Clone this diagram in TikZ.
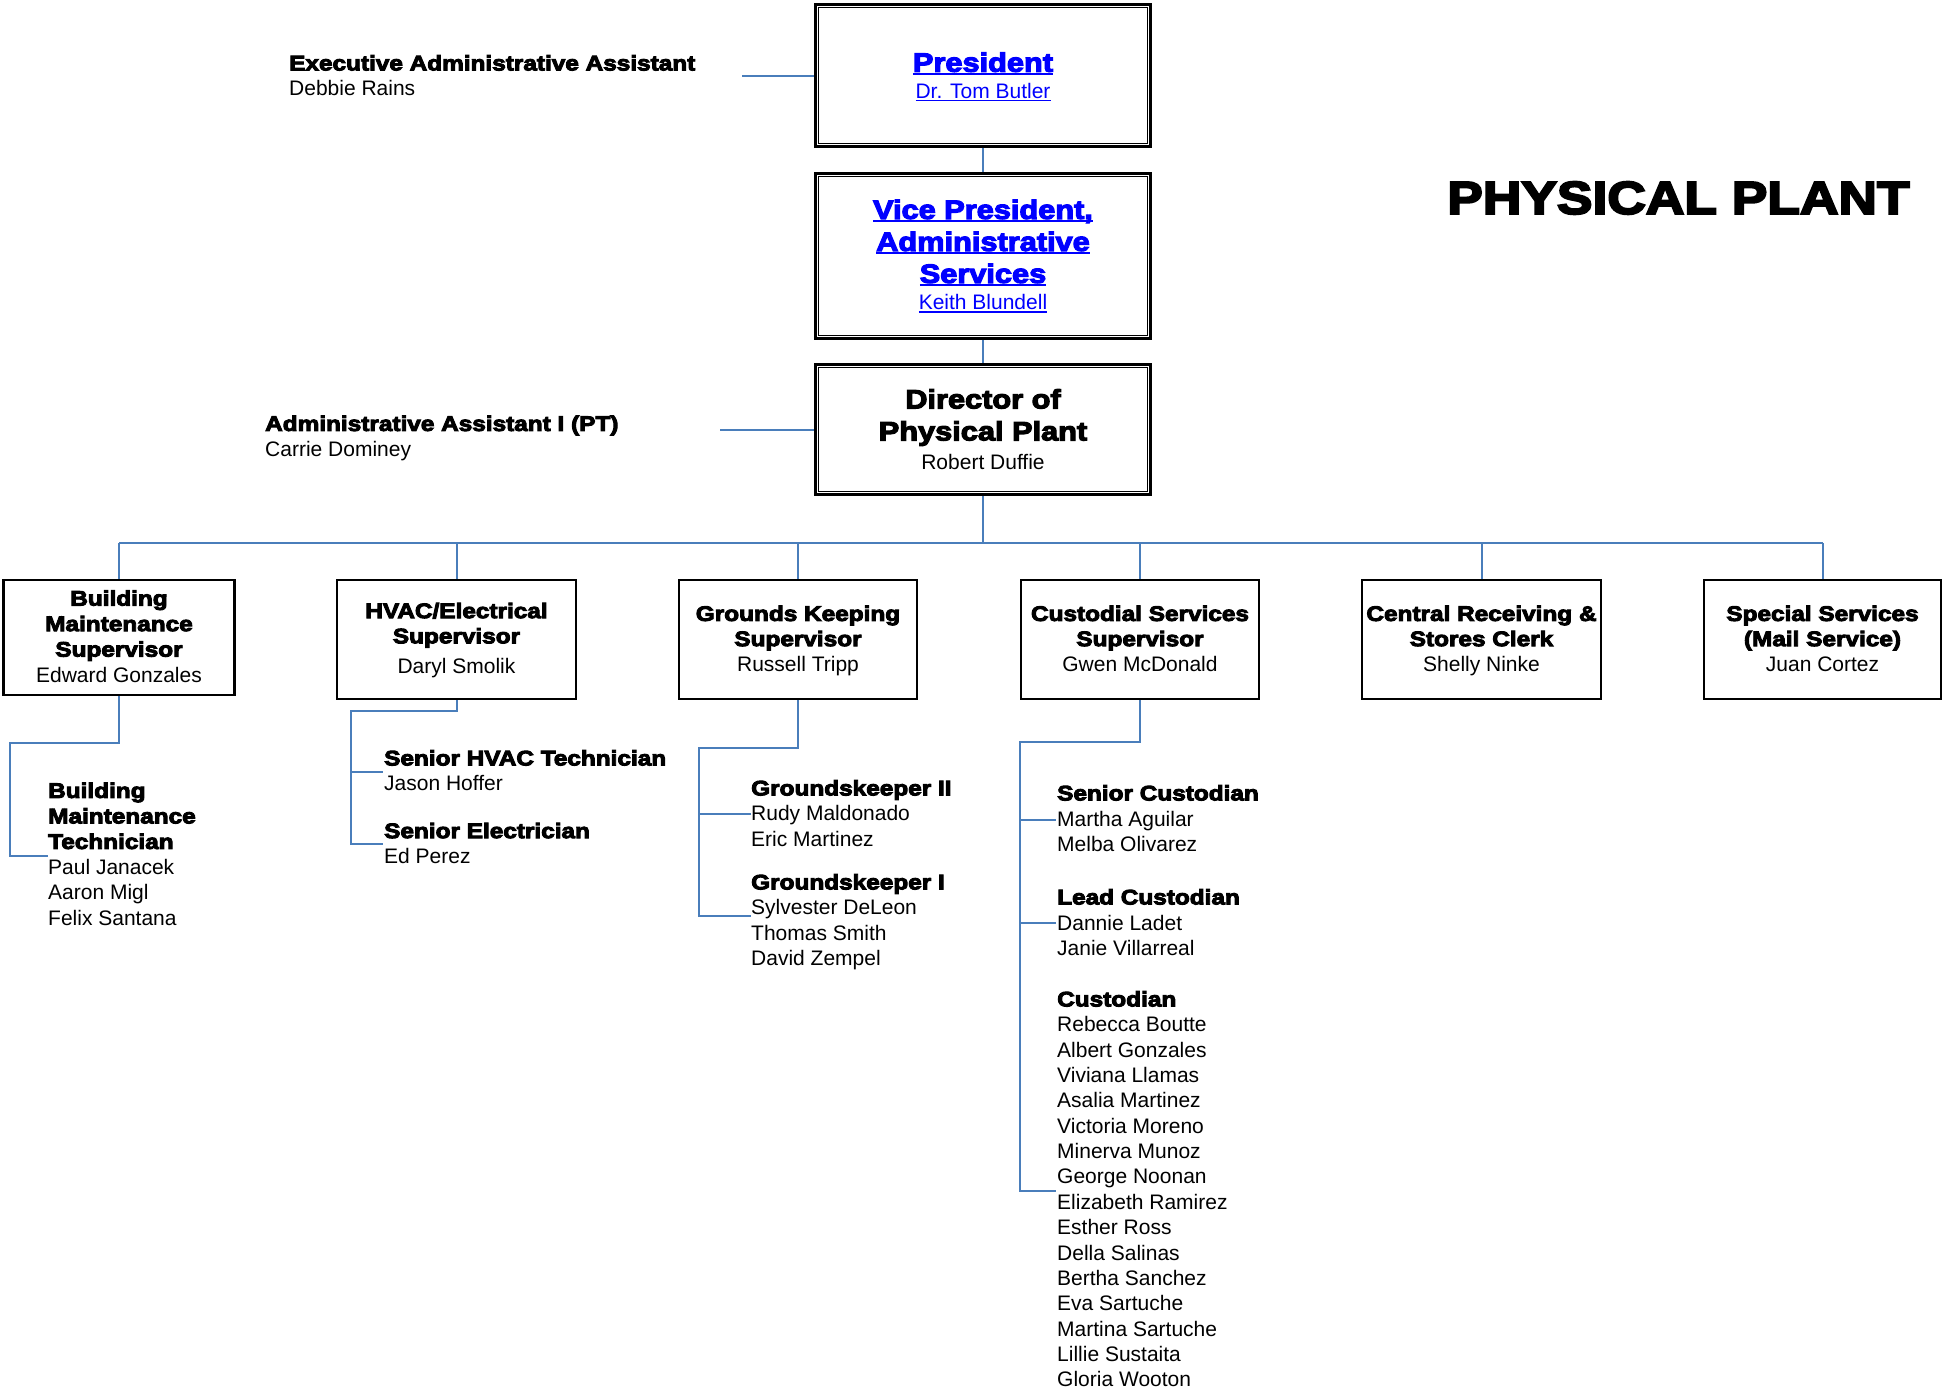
\documentclass[tikz,border=0pt]{standalone}
\usepackage{fontspec}
\setmainfont{Liberation Sans}
\newfontfamily\blk[FakeStretch=1.16,FakeBold=4.5]{Liberation Sans Bold}
\newcommand\ulx[1]{\setbox0\hbox{#1}\rlap{\rule[-3.3pt]{\wd0}{1.8pt}}\box0}
\usetikzlibrary{calc}
\definecolor{conn}{RGB}{74,126,187}
\definecolor{lnk}{RGB}{0,0,255}
\begin{document}
\begin{tikzpicture}[x=1pt,y=-1pt,
  cline/.style={draw=conn,line width=2pt},
  topbox/.style={draw=black,line width=3pt,rectangle,inner sep=0pt,minimum width=335pt},
  midbox/.style={draw=black,line width=2.3pt,rectangle,inner sep=0pt,minimum width=238pt,minimum height=119pt},
  inbox/.style={draw=black,line width=1.7pt},
  txt/.style={inner sep=0pt,align=left,anchor=north west,font=\fontsize{21}{25.4}\selectfont},
  ctxt/.style={inner sep=0pt,align=center,anchor=north,font=\fontsize{21}{25.4}\selectfont},
  btxt/.style={inner sep=0pt,align=center,anchor=north,font=\fontsize{26.5}{32}\blk}]
\useasboundingbox (0,0) rectangle (1944,1394);

% top boxes
\node[topbox,minimum height=142pt] (pres) at (983,75.5) {};
\node[topbox,minimum height=165pt] (vp) at (983,256) {};
\node[topbox,minimum height=130pt] (dir) at (983,429.5) {};
\foreach \b in {pres,vp,dir}{
  \draw[inbox] ($(\b.north west)+(4.5,4.5)$) rectangle ($(\b.south east)+(-4.5,-4.5)$);
}
\node[btxt,text=lnk] (prest) at (983,52.3) {\ulx{President}\\[-5.6pt]{\fontsize{21}{25.4}\fontspec{Liberation Sans}\ulx{Dr. Tom Butler}}};
\node[btxt,text=lnk] (vpt) at (983,199.5) {\ulx{Vice President,}\\\ulx{Administrative}\\\ulx{Services}\\[-5.6pt]{\fontsize{21}{25.4}\fontspec{Liberation Sans}\ulx{Keith Blundell}}};
\node[btxt] (dirt) at (983,389) {Director of\\Physical Plant\\[-2.7pt]{\fontsize{21}{25.4}\fontspec{Liberation Sans}Robert Duffie}};

% assistants
\node[txt] (exec) at (289,55) {{\blk Executive Administrative Assistant}\\Debbie Rains};
\node[txt] (adm) at (265,415.5) {{\blk Administrative Assistant I (PT)}\\Carrie Dominey};
\coordinate (execE) at (742,76);
\coordinate (admE) at (720,430);
\draw[cline] (execE) -- (pres.west |- execE);
\draw[cline] (admE) -- (dir.west |- admE);

% title
\node[inner sep=0pt,anchor=north west,font=\fontsize{46}{50}\blk] (title) at (1447,181.5) {PHYSICAL PLANT};

% level 2 boxes
\node[midbox,minimum width=231pt,minimum height=115pt] (bm) at (119,637.5) {};
\node[midbox,minimum width=239pt] (hv) at (456.5,639.5) {};
\node[midbox] (gk) at (798,639.5) {};
\node[midbox] (cs) at (1140,639.5) {};
\node[midbox,minimum width=239pt] (cr) at (1481.5,639.5) {};
\node[midbox,minimum width=237pt] (sp) at (1822.5,639.5) {};

\node[ctxt,font=\fontsize{21}{25.5}\selectfont] (bmt) at (119,590.2) {{\blk Building}\\{\blk Maintenance}\\{\blk Supervisor}\\Edward Gonzales};
\node[ctxt,font=\fontsize{21}{25.2}\selectfont] (hvt) at (456.5,602.7) {{\blk HVAC/Electrical}\\{\blk Supervisor}\\[4.8pt]Daryl Smolik};
\node[ctxt,font=\fontsize{21}{25.2}\selectfont] (gkt) at (798,605.5) {{\blk Grounds Keeping}\\{\blk Supervisor}\\Russell Tripp};
\node[ctxt,font=\fontsize{21}{25.2}\selectfont] (cst) at (1140,605.5) {{\blk Custodial Services}\\{\blk Supervisor}\\Gwen McDonald};
\node[ctxt,font=\fontsize{21}{25.2}\selectfont] (crt) at (1481.5,605.5) {{\blk Central Receiving \&}\\{\blk Stores Clerk}\\Shelly Ninke};
\node[ctxt,font=\fontsize{21}{25.2}\selectfont] (spt) at (1822.5,605.5) {{\blk Special Services}\\{\blk (Mail Service)}\\Juan Cortez};

% main connectors
\coordinate (bus) at (983,543);
\draw[cline] (pres.south) -- (vp.north);
\draw[cline] (vp.south) -- (dir.north);
\draw[cline] (dir.south) -- (bus);
\draw[cline] (bm.north |- bus) -- (sp.north |- bus);
\foreach \b in {bm,hv,gk,cs,cr,sp}{
  \draw[cline] (\b.north) -- (\b.north |- bus);
}

% sub texts
\node[txt,font=\fontsize{21}{25.5}\selectfont] (bmsub) at (48,782.5) {{\blk Building}\\{\blk Maintenance}\\{\blk Technician}\\Paul Janacek\\Aaron Migl\\Felix Santana};
\node[txt] (hv1) at (384,750) {{\blk Senior HVAC Technician}\\Jason Hoffer};
\node[txt] (hv2) at (384,822.7) {{\blk Senior Electrician}\\Ed Perez};
\node[txt] (gk1) at (751,780) {{\blk Groundskeeper II}\\Rudy Maldonado\\Eric Martinez};
\node[txt] (gk2) at (751,874) {{\blk Groundskeeper I}\\Sylvester DeLeon\\Thomas Smith\\David Zempel};
\node[txt] (cs1) at (1057,785) {{\blk Senior Custodian}\\[0.5pt]Martha Aguilar\\Melba Olivarez};
\node[txt] (cs2) at (1057,889) {{\blk Lead Custodian}\\[0.5pt]Dannie Ladet\\Janie Villarreal};
\node[txt,font=\fontsize{21}{25.36}\selectfont] (cs3) at (1057,991) {{\blk Custodian}\\Rebecca Boutte\\Albert Gonzales\\Viviana Llamas\\Asalia Martinez\\Victoria Moreno\\Minerva Munoz\\George Noonan\\Elizabeth Ramirez\\Esther Ross\\Della Salinas\\Bertha Sanchez\\Eva Sartuche\\Martina Sartuche\\Lillie Sustaita\\Gloria Wooton};

% sub connectors
\coordinate (bmK) at (10,743);
\coordinate (bmE) at (48,856);
\draw[cline] (bm.south) |- (bmK) -- (bmK |- bmE) -- (bmE);

\coordinate (hvK) at (351,711);
\coordinate (hvE1) at (383,772);
\coordinate (hvE2) at (383,844);
\draw[cline] (hv.south) |- (hvK) -- (hvK |- hvE2) -- (hvE2);
\draw[cline] (hvK |- hvE1) -- (hvE1);

\coordinate (gkK) at (699,748);
\coordinate (gkE1) at (751,814);
\coordinate (gkE2) at (751,916);
\draw[cline] (gk.south) |- (gkK) -- (gkK |- gkE2) -- (gkE2);
\draw[cline] (gkK |- gkE1) -- (gkE1);

\coordinate (csK) at (1020,742);
\coordinate (csE1) at (1056,820);
\coordinate (csE2) at (1056,923);
\coordinate (csE3) at (1056,1191);
\draw[cline] (cs.south) |- (csK) -- (csK |- csE3) -- (csE3);
\draw[cline] (csK |- csE1) -- (csE1);
\draw[cline] (csK |- csE2) -- (csE2);
\end{tikzpicture}
\end{document}
